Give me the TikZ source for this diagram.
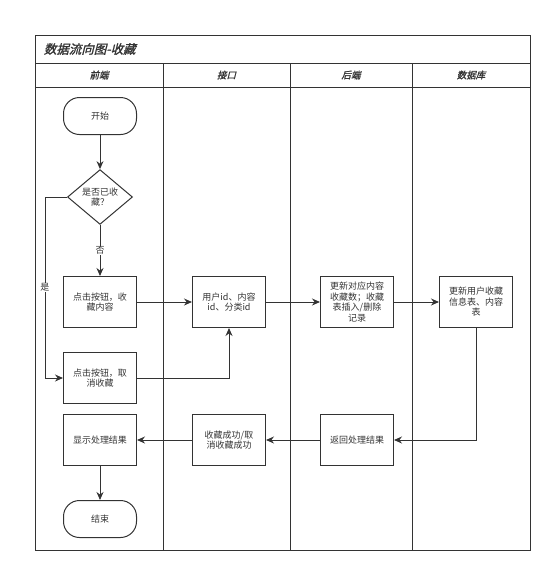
\documentclass[tikz,border=0pt]{standalone}
\usepackage{fontspec}
\usetikzlibrary{shapes.geometric,arrows.meta}
\newfontfamily\cjk{Noto Sans CJK SC}
\newfontfamily\cjkslant[FakeSlant=0.25,FakeBold=1.5]{Noto Sans CJK SC}
\definecolor{ink}{HTML}{333333}
\begin{document}
\begin{tikzpicture}[x=1pt,y=-1pt,
		line width=1pt,draw=ink,
		box/.style={draw=ink,line width=1pt,minimum width=73pt,minimum height=51pt,inner sep=1pt,align=center,text=ink,font=\cjk\fontsize{9}{10.5}\selectfont},
		term/.style={box,minimum height=37pt,rounded corners=16pt},
		choice/.style={draw=ink,line width=1pt,shape=diamond,minimum width=65pt,minimum height=50pt,inner sep=0pt,align=center,text=ink,font=\cjk\fontsize{9}{10.5}\selectfont},
		flow/.style={draw=ink,line width=1pt,-{Stealth[length=8pt,width=7pt]}},
		tag/.style={fill=white,inner sep=1pt,text=ink,font=\cjk\fontsize{9}{10.5}\selectfont},
		lane/.style={text=ink,font=\cjkslant\fontsize{9.5}{11}\selectfont}]
	\useasboundingbox (0,0) rectangle (553,574);
	\draw (35,35) rectangle (530,550);
	\draw (35,63) -- (530,63);
	\draw (35,87) -- (530,87);
	\draw (163,63) -- (163,550);
	\draw (290,63) -- (290,550);
	\draw (412,63) -- (412,550);
		\node[anchor=west,text=ink,font=\cjkslant\fontsize{12.5}{14}\selectfont] (title) at (40,49) {数据流向图-收藏};
		\node[lane] (laneA) at (99,75) {前端};
		\node[lane] (laneB) at (226.5,75) {接口};
		\node[lane] (laneC) at (351,75) {后端};
		\node[lane] (laneD) at (471,75) {数据库};

		\node[term] (start) at (100,116) {开始};
		\node[choice] (isfav) at (100,197) {是否已收\\藏？};
		\node[box] (fav) at (100,302) {点击按钮，收\\藏内容};
		\node[box] (unfav) at (100,378) {点击按钮，取\\消收藏};
		\node[box] (iface) at (229,302) {用户id、内容\\id、分类id};
		\node[box] (update) at (357,302) {更新对应内容\\收藏数；收藏\\表插入/删除\\记录};
		\node[box] (store) at (476,302) {更新用户收藏\\信息表、内容\\表};
		\node[box] (reply) at (357,440) {返回处理结果};
		\node[box] (done) at (229,440) {收藏成功/取\\消收藏成功};
		\node[box] (show) at (100,440) {显示处理结果};
		\node[term] (stop) at (100,519) {结束};

		\coordinate (bendYes) at (45,197);
		\coordinate (bendNo) at (45,378);

	\draw[flow] (start) -- (isfav);
	\draw[flow] (isfav) -- node[tag,pos=0.5] {否} (fav);
	\draw[flow] (isfav.west) -- (bendYes) -- node[tag,pos=0.5] {是} (bendNo) -- (unfav.west);
	\draw[flow] (fav) -- (iface);
	\draw[flow] (unfav.east) -| (iface.south);
	\draw[flow] (iface) -- (update);
	\draw[flow] (update) -- (store);
	\draw[flow] (store.south) |- (reply.east);
	\draw[flow] (reply) -- (done);
	\draw[flow] (done) -- (show);
	\draw[flow] (show) -- (stop);
\end{tikzpicture}
\end{document}
